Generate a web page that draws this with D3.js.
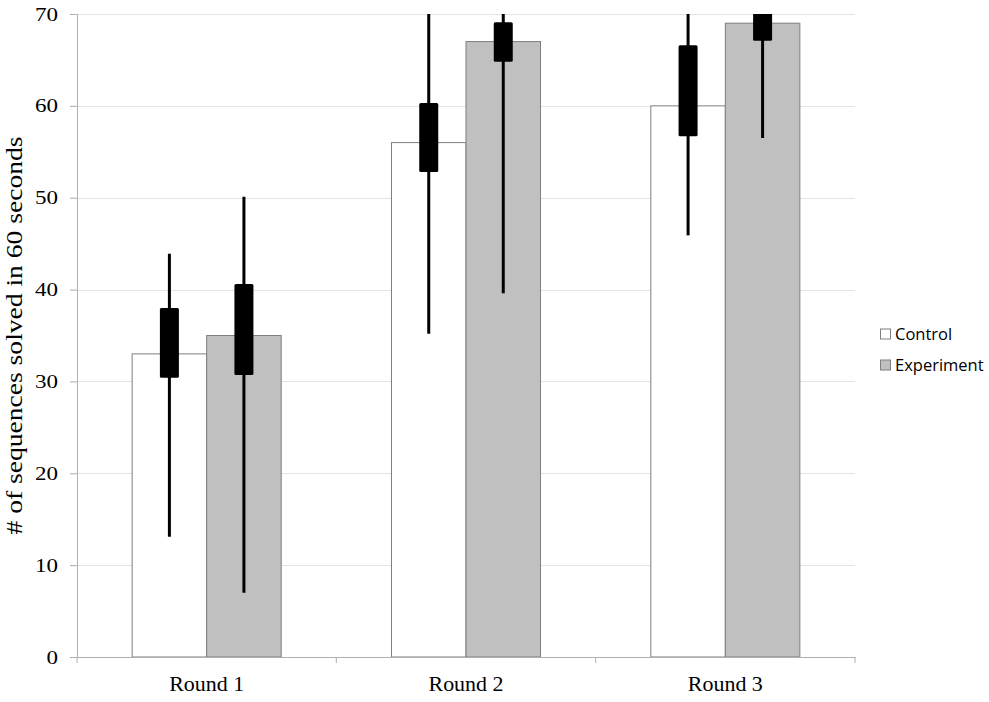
<!DOCTYPE html>
<meta charset="utf-8">
<head>
<style>
  body { margin: 0; background: #fff; }
  .tick text { font-family: "Liberation Serif", "Times New Roman", serif; fill: #000; }
</style>
</head>
<title>Sequences solved</title>
<script src="https://d3js.org/d3.v7.min.js"></script>
<div id="chart"></div>
<script>

// data
var rounds = ["Round 1", "Round 2", "Round 3"];
var series = ["Control", "Experiment"];
var controlMean = [33, 56, 60];
var experimentMean = [35, 67, 69];
// thick part (box) and thin part (whisker) of the error bars
var controlBoxLow = [30.4, 52.8, 56.7];
var controlBoxHigh = [38.0, 60.3, 66.6];
var controlWhiskLow = [13.1, 35.2, 45.9];
var controlWhiskHigh = [43.9, 77, 73];
var experimentBoxLow = [30.7, 64.8, 67.1];
var experimentBoxHigh = [40.6, 69.1, 71];
var experimentWhiskLow = [7.0, 39.6, 56.5];
var experimentWhiskHigh = [50.1, 75, 75];
var yTicks = [0, 10, 20, 30, 40, 50, 60, 70];

var margin = {top: 14, right: 134, bottom: 45, left: 77},
    width = 989 - margin.left - margin.right,
    height = 702 - margin.top - margin.bottom;

var svg = d3.select("#chart")
  .append("svg")
    .attr("width", 989)
    .attr("height", 702)
  .append("g")
    .attr("transform", "translate(" + margin.left + "," + margin.top + ")");

var x = d3.scaleBand()
  .domain(rounds)
  .range([0, width]);

var xs = d3.scaleBand()
  .domain(series)
  .range([0, x.bandwidth()])
  .paddingOuter(0.74);

var y = d3.scaleLinear()
  .domain([0, 70])
  .range([height, 0]);

var colors = {Control: "#ffffff", Experiment: "#c0c0c0"};

// gridlines
svg.append("g")
  .selectAll("line")
  .data(yTicks.filter(function(d) { return d > 0; }))
  .enter()
  .append("line")
    .attr("x1", 0)
    .attr("x2", width)
    .attr("y1", function(d) { return Math.round(y(d)) + 0.5; })
    .attr("y2", function(d) { return Math.round(y(d)) + 0.5; })
    .attr("stroke", "#e3e3e3")
    .attr("stroke-width", 1.2);

var rows = [];
rounds.forEach(function(r, i) {
  rows.push({round: r, s: "Control", v: controlMean[i],
    bl: controlBoxLow[i], bh: controlBoxHigh[i], wl: controlWhiskLow[i], wh: controlWhiskHigh[i]});
  rows.push({round: r, s: "Experiment", v: experimentMean[i],
    bl: experimentBoxLow[i], bh: experimentBoxHigh[i], wl: experimentWhiskLow[i], wh: experimentWhiskHigh[i]});
});

// bars
svg.append("g")
  .selectAll("rect")
  .data(rows)
  .enter()
  .append("rect")
    .attr("x", function(d) { return x(d.round) + xs(d.s); })
    .attr("y", function(d) { return y(d.v); })
    .attr("width", xs.bandwidth())
    .attr("height", function(d) { return height - y(d.v); })
    .attr("fill", function(d) { return colors[d.s]; })
    .attr("stroke", "#7f7f7f")
    .attr("stroke-width", 1);

// axes
var yAxis = svg.append("g")
  .call(d3.axisLeft(y).tickValues(yTicks).tickSize(7).tickPadding(12));
yAxis.select(".domain").attr("stroke", "#b0b0b0");
yAxis.selectAll(".tick line").attr("stroke", "#b0b0b0");
yAxis.selectAll(".tick text")
  .style("font-size", "19px")
  .attr("textLength", function(d) { return String(d).length * 11.5; })
  .attr("lengthAdjust", "spacingAndGlyphs");

var xAxis = svg.append("g")
  .attr("transform", "translate(0," + height + ")")
  .call(d3.axisBottom(x).tickSize(0).tickPadding(19));
xAxis.select(".domain").attr("stroke", "#b0b0b0");
xAxis.selectAll(".tick text")
  .style("font-size", "21px")
  .attr("textLength", 75)
  .attr("lengthAdjust", "spacingAndGlyphs");

// category separators
svg.append("g")
  .selectAll("line")
  .data([0].concat(rounds.map(function(r) { return x(r) + x.bandwidth(); })))
  .enter()
  .append("line")
    .attr("x1", function(d) { return d; })
    .attr("x2", function(d) { return d; })
    .attr("y1", height)
    .attr("y2", height + 6)
    .attr("stroke", "#b0b0b0");

// error bars, clipped to the plot
svg.append("clipPath")
  .attr("id", "plotclip")
  .append("rect")
    .attr("x", 0).attr("y", 0)
    .attr("width", width).attr("height", height);

var err = svg.append("g")
  .attr("clip-path", "url(#plotclip)")
  .selectAll("g")
  .data(rows)
  .enter()
  .append("g")
  .attr("transform", function(d) {
    return "translate(" + (x(d.round) + xs(d.s) + xs.bandwidth() / 2) + ",0)";
  });

err.append("line")
  .attr("y1", function(d) { return y(d.wl); })
  .attr("y2", function(d) { return y(d.wh); })
  .attr("stroke", "#000")
  .attr("stroke-width", 3);

err.append("rect")
  .attr("x", -9.5)
  .attr("width", 19)
  .attr("y", function(d) { return y(d.bh); })
  .attr("height", function(d) { return y(d.bl) - y(d.bh); })
  .attr("rx", 1.5)
  .attr("fill", "#000");

// y axis title
svg.append("text")
  .attr("transform", "translate(" + (-55) + "," + (height / 2) + ") rotate(-90)")
  .attr("text-anchor", "middle")
  .attr("textLength", 398)
  .attr("lengthAdjust", "spacingAndGlyphs")
  .style("font-family", "Liberation Serif, Times New Roman, serif")
  .style("font-size", "23px")
  .text("# of sequences solved in 60 seconds");

// legend
var legend = svg.append("g")
  .attr("transform", "translate(" + (width + 25) + "," + (height / 2 - 7) + ")")
  .selectAll("g")
  .data(series)
  .enter()
  .append("g")
  .attr("transform", function(d, i) { return "translate(0," + (i * 31) + ")"; });

legend.append("rect")
  .attr("x", 0.5).attr("y", 0.5)
  .attr("width", 10).attr("height", 10)
  .attr("fill", function(d) { return colors[d]; })
  .attr("stroke", "#7f7f7f");

legend.append("text")
  .attr("x", 15)
  .attr("y", 11)
  .style("font-family", "Open Sans, Liberation Sans, sans-serif")
  .style("font-size", "16.5px")
  .text(function(d) { return d; });

</script>
